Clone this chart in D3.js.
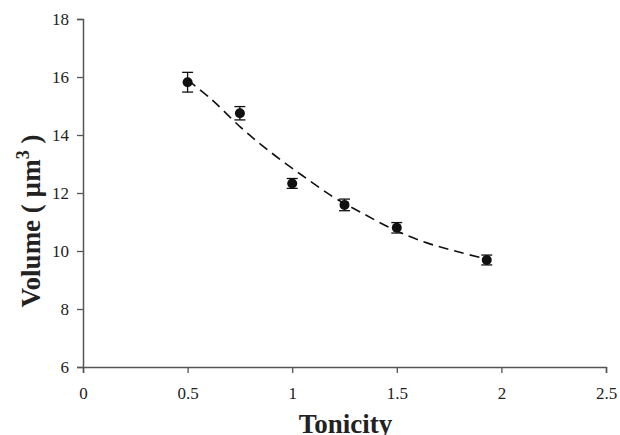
<!DOCTYPE html>
<html>
<head>
<meta charset="utf-8">
<script src="https://cdn.jsdelivr.net/npm/d3@7"></script>
<style>
  body { margin: 0; background: #fff; }
  svg { display: block; }
  .tick text { font-family: "Liberation Serif", "Times New Roman", serif; font-size: 17px; fill: #222; }
  .axis-title { font-family: "Liberation Serif", "Times New Roman", serif; font-size: 27px; font-weight: bold; fill: #222; }
</style>
</head>
<body>
<svg id="chart"></svg>
<script>
// measured points
const tonicity = [0.5, 0.75, 1.0, 1.25, 1.5, 1.93];
const volume = [15.82, 14.75, 12.33, 11.59, 10.80, 9.69];
const volumeErr = [0.34, 0.23, 0.17, 0.2, 0.18, 0.17];

// dashed trend line
const trendX = [0.5, 0.617, 0.75, 0.884, 1.045, 1.195, 1.334, 1.491, 1.644, 1.788, 1.93];
const trendY = [15.9, 15.21, 14.29, 13.48, 12.62, 11.87, 11.31, 10.72, 10.28, 9.98, 9.72];

const xTicks = [0, 0.5, 1, 1.5, 2, 2.5];
const yTicks = [6, 8, 10, 12, 14, 16, 18];

const width = 620, height = 435;
const margin = { top: 19, right: 14, bottom: 68, left: 83 };

const svg = d3.select("#chart").attr("width", width).attr("height", height);

const x = d3.scaleLinear().domain([0, 2.5]).range([margin.left, width - margin.right]);
const y = d3.scaleLinear().domain([6, 18]).range([height - margin.bottom, margin.top]);

// axes
const xAxis = svg.append("g")
  .attr("transform", `translate(0,${y(6)})`)
  .call(d3.axisBottom(x).tickValues(xTicks).tickSize(6).tickPadding(14).tickFormat(d3.format("")));
const yAxis = svg.append("g")
  .attr("transform", `translate(${x(0)},0)`)
  .call(d3.axisLeft(y).tickValues(yTicks).tickSize(6).tickPadding(8));

[xAxis, yAxis].forEach(function(a) {
  a.attr("font-family", null).attr("font-size", null);
  a.select(".domain").attr("stroke", "#555").attr("stroke-width", 1.5);
  a.selectAll(".tick line").attr("stroke", "#555").attr("stroke-width", 1.3);
});
yAxis.selectAll(".tick text").attr("dy", "0.35em");

// trend line
const trend = trendX.map(function(d, i) { return [d, trendY[i]]; });
svg.append("path")
  .datum(trend)
  .attr("fill", "none")
  .attr("stroke", "#111")
  .attr("stroke-width", 1.6)
  .attr("stroke-dasharray", "10,6")
  .attr("d", d3.line()
    .x(function(d) { return x(d[0]); })
    .y(function(d) { return y(d[1]); })
    .curve(d3.curveCatmullRom));

// error bars
const pts = tonicity.map(function(d, i) { return { t: d, v: volume[i], e: volumeErr[i] }; });
const eb = svg.append("g").attr("stroke", "#111").attr("stroke-width", 1.3);
eb.selectAll(".stem").data(pts).enter().append("line")
  .attr("x1", function(d) { return x(d.t); })
  .attr("x2", function(d) { return x(d.t); })
  .attr("y1", function(d) { return y(d.v + d.e); })
  .attr("y2", function(d) { return y(d.v - d.e); });
eb.selectAll(".capTop").data(pts).enter().append("line")
  .attr("x1", function(d) { return x(d.t) - 5.5; })
  .attr("x2", function(d) { return x(d.t) + 5.5; })
  .attr("y1", function(d) { return y(d.v + d.e); })
  .attr("y2", function(d) { return y(d.v + d.e); });
eb.selectAll(".capBot").data(pts).enter().append("line")
  .attr("x1", function(d) { return x(d.t) - 5.5; })
  .attr("x2", function(d) { return x(d.t) + 5.5; })
  .attr("y1", function(d) { return y(d.v - d.e); })
  .attr("y2", function(d) { return y(d.v - d.e); });

// markers
svg.append("g").selectAll("circle").data(pts).enter().append("circle")
  .attr("cx", function(d) { return x(d.t); })
  .attr("cy", function(d) { return y(d.v); })
  .attr("r", 5)
  .attr("fill", "#111");

// titles
svg.append("text")
  .attr("class", "axis-title")
  .attr("x", (x(0) + x(2.5)) / 2 + 1)
  .attr("y", 433)
  .attr("text-anchor", "middle")
  .text("Tonicity");

const yt = svg.append("text")
  .attr("class", "axis-title")
  .attr("transform", `translate(40,${221}) rotate(-90)`)
  .attr("text-anchor", "middle");
yt.append("tspan").text("Volume ( µm");
yt.append("tspan").attr("dy", -11).attr("font-size", "18px").text("3");
yt.append("tspan").attr("dy", 11).text(" )");
</script>
</body>
</html>
